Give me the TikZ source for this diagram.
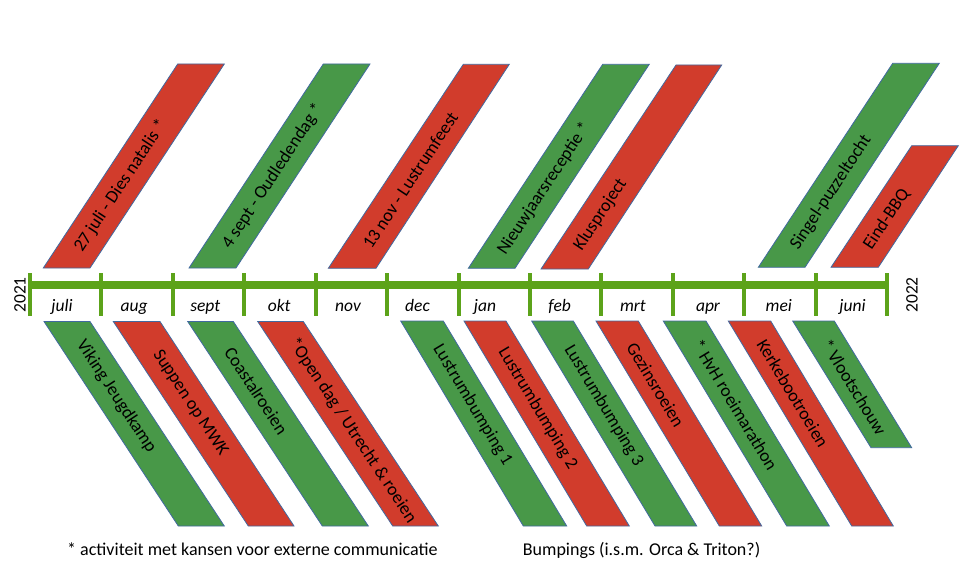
\documentclass[tikz,border=0pt]{standalone}
\usepackage{fontspec}
\setmainfont{Carlito}
\usetikzlibrary{calc}
\definecolor{boxred}{RGB}{209,60,44}
\definecolor{boxgreen}{RGB}{72,152,72}
\definecolor{boxedge}{RGB}{65,105,160}
\definecolor{axisgreen}{RGB}{92,163,26}
\tikzset{
  boxline/.style={draw=boxedge, line width=0.8pt, line join=miter},
  boxtext/.style={font=\fontsize{18}{21}\selectfont, inner sep=0pt, text=black},
  monthlbl/.style={font=\fontsize{17.5}{20}\selectfont\itshape, inner sep=0pt, anchor=base},
  yearlbl/.style={font=\fontsize{17.5}{20}\selectfont, inner sep=0pt, rotate=90},
  footlbl/.style={font=\fontsize{18}{21}\selectfont, inner sep=0pt, anchor=base west},
  axisline/.style={draw=axisgreen, line width=8.5pt},
  tickline/.style={draw=axisgreen, line width=4pt}
}
\newcommand\slantbox[8][24]{%
  \draw[boxline, fill=#3] #4 coordinate (#2a) -- #5 coordinate (#2b) -- #6 coordinate (#2c) -- #7 coordinate (#2d) -- cycle;
  \path let \p1 = ($(#2a)!0.5!(#2b)$), \p2 = ($(#2d)!0.5!(#2c)$), \n1 = {atan2(\y2-\y1,\x2-\x1)} in
    node[boxtext, rotate=\n1, anchor=west] (#2) at ($(\p1)!#1pt!(\p2)$) {#8};
}
\begin{document}
\begin{tikzpicture}[x=1pt,y=-1pt]
\useasboundingbox (0,0) rectangle (970,567);
% timeline
\draw[axisline] (30,285) coordinate (axs) -- (887,285) coordinate (axe);
\foreach \i in {0,...,12}{
  \draw[tickline] ({30+71.417*\i},273) -- ({30+71.417*\i},316);
}
\foreach \m/\x [count=\i from 0] in {juli/62,aug/134.2,sept/205.3,okt/279.2,nov/348,dec/417.5,jan/485,feb/559.7,mrt/633,apr/708,mei/778.8,juni/852.5}{
  \node[monthlbl] (month\i) at (\x,311.5) {\m};
}
\node[yearlbl] (y2021) at (20,295) {2021};
\node[yearlbl] (y2022) at (912,295) {2022};
% top boxes
\slantbox[21]{tA}{boxred}{(43.3,268)}{(90,268)}{(224.3,64)}{(177.7,64)}{27 juli - Dies natalis *}
\slantbox[25]{tB}{boxgreen}{(189,268)}{(236,268)}{(370,64)}{(323.3,64)}{4 sept - Oudledendag *}
\slantbox[26]{tC}{boxred}{(328.3,268.3)}{(376,268.3)}{(509.3,64.3)}{(463.3,64.3)}{13 nov - Lustrumfeest}
\slantbox[18]{tD}{boxgreen}{(468.3,268.3)}{(515,268.3)}{(649.3,64.3)}{(602.7,64.3)}{Nieuwjaarsreceptie *}
\slantbox[24]{tE}{boxred}{(541,269)}{(588.3,269)}{(721.7,65)}{(676,65)}{Klusproject}
\slantbox[23]{tF}{boxgreen}{(758.3,267.3)}{(805,267.3)}{(939.3,63.3)}{(892.7,63.3)}{Singel-puzzeltocht}
\slantbox[23]{tG}{boxred}{(831,267.3)}{(878.3,267.3)}{(958.3,145.7)}{(911.7,145.7)}{Eind-BBQ}
% bottom boxes
\slantbox[24]{bH}{boxgreen}{(44,321.5)}{(90,321.5)}{(224.3,526)}{(178.3,526)}{Viking Jeugdkamp}
\slantbox[36]{bI}{boxred}{(113.3,321.5)}{(160,321.5)}{(294,526)}{(248.3,526)}{Suppen op MWK}
\slantbox[33]{bJ}{boxgreen}{(187.7,321.5)}{(233.3,321.5)}{(368.3,526)}{(322.3,526)}{Coastalroeien}
\slantbox[22]{bK}{boxred}{(257.7,321.5)}{(303.3,321.5)}{(438.3,526)}{(392.7,526)}{*Open dag / Utrecht \& roeien}
\slantbox[29]{bL}{boxgreen}{(400.7,321)}{(443.3,321)}{(566.7,526)}{(523.3,526)}{Lustrumbumping 1}
\slantbox[33]{bM}{boxred}{(464,321)}{(506,321)}{(629.3,526)}{(586.7,526)}{Lustrumbumping 2}
\slantbox[30]{bN}{boxgreen}{(531.7,321)}{(573.3,321)}{(696.7,526)}{(655,526)}{Lustrumbumping 3}
\slantbox[27]{bO}{boxred}{(596,321)}{(638.3,321)}{(761.7,526)}{(719.3,526)}{Gezinsroeien}
\slantbox[24]{bP}{boxgreen}{(663.3,321)}{(706,321)}{(829.3,526)}{(786.7,526)}{* HvH roeimarathon}
\slantbox[23]{bQ}{boxred}{(728.3,321)}{(770.7,321)}{(893.3,526)}{(851.7,526)}{Kerkebootroeien}
\slantbox[23]{bR}{boxgreen}{(792.7,321)}{(834.3,321)}{(911.7,447.7)}{(871,447.7)}{* Vlootschouw}
% footer
\node[footlbl] (note1) at (67,555) {* activiteit met kansen voor externe communicatie};
\node[footlbl] (note2) at (522.7,555) {Bumpings (i.s.m. Orca \& Triton?)};
\end{tikzpicture}
\end{document}
